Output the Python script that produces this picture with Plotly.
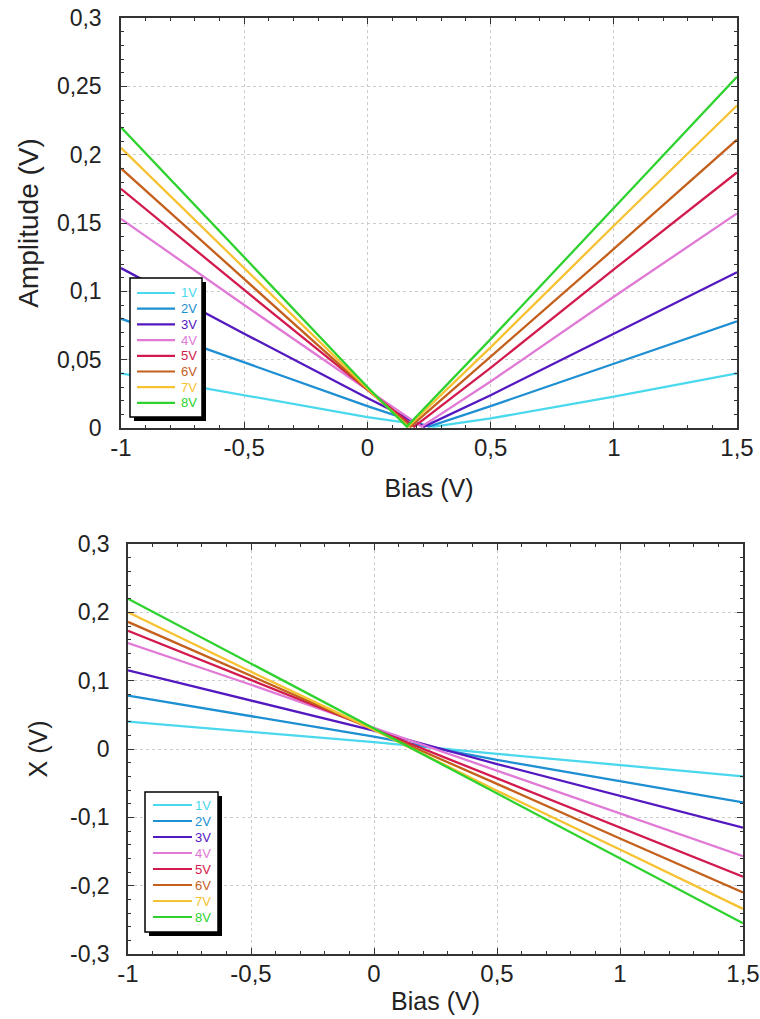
import plotly.graph_objects as go

labels = ["1V", "2V", "3V", "4V", "5V", "6V", "7V", "8V"]
colors = ["#4ad8ec", "#1e8fd2", "#5418c0", "#e07ad6", "#d21a4e", "#c4601c", "#f6c232", "#2ed22e"]

bias = [-1.0, -0.5, 0.0, 0.5, 1.0, 1.5]

# Amplitude (top) read at the bias points above
amp_1V = [0.040, 0.024, 0.008, 0.007, 0.023, 0.040]
amp_2V = [0.080, 0.048, 0.016, 0.016, 0.047, 0.078]
amp_3V = [0.117, 0.069, 0.022, 0.024, 0.069, 0.114]
amp_4V = [0.153, 0.090, 0.028, 0.034, 0.096, 0.157]
amp_5V = [0.175, 0.101, 0.028, 0.044, 0.116, 0.187]
amp_6V = [0.190, 0.109, 0.028, 0.052, 0.131, 0.211]
amp_7V = [0.205, 0.117, 0.029, 0.059, 0.148, 0.236]
amp_8V = [0.220, 0.125, 0.030, 0.065, 0.161, 0.257]
# minimum of each amplitude curve
vertex_bias = [0.27, 0.25, 0.23, 0.22, 0.19, 0.175, 0.165, 0.16]
vertex_amp = [0.001, 0.001, 0.001, 0.001, 0.001, 0.001, 0.001, 0.001]

# X (bottom) read at the bias points above
x_1V = [0.040, 0.025, 0.010, -0.007, -0.024, -0.040]
x_2V = [0.078, 0.048, 0.018, -0.016, -0.047, -0.078]
x_3V = [0.115, 0.071, 0.027, -0.022, -0.069, -0.115]
x_4V = [0.155, 0.094, 0.031, -0.032, -0.095, -0.157]
x_5V = [0.173, 0.101, 0.030, -0.043, -0.115, -0.187]
x_6V = [0.186, 0.107, 0.029, -0.051, -0.131, -0.210]
x_7V = [0.200, 0.113, 0.028, -0.061, -0.147, -0.234]
x_8V = [0.220, 0.125, 0.030, -0.065, -0.160, -0.255]

x_tickvals = [-1, -0.5, 0, 0.5, 1, 1.5]
x_ticktext = ["-1", "-0,5", "0", "0,5", "1", "1,5"]
amp_tickvals = [0, 0.05, 0.1, 0.15, 0.2, 0.25, 0.3]
amp_ticktext = ["0", "0,05", "0,1", "0,15", "0,2", "0,25", "0,3"]
xv_tickvals = [-0.3, -0.2, -0.1, 0, 0.1, 0.2, 0.3]
xv_ticktext = ["-0,3", "-0,2", "-0,1", "0", "0,1", "0,2", "0,3"]

amps = [amp_1V, amp_2V, amp_3V, amp_4V, amp_5V, amp_6V, amp_7V, amp_8V]
xs = [x_1V, x_2V, x_3V, x_4V, x_5V, x_6V, x_7V, x_8V]

FONT = "Liberation Sans, Arial, sans-serif"
W, H = 760, 1019
fig = go.Figure()

for i, lab in enumerate(labels):
    pts = sorted(list(zip(bias, amps[i])) + [(vertex_bias[i], vertex_amp[i])])
    fig.add_trace(go.Scatter(
        x=[p[0] for p in pts], y=[p[1] for p in pts], mode="lines",
        line=dict(color=colors[i], width=2.3), name=lab, showlegend=False,
        xaxis="x", yaxis="y"))

for i, lab in enumerate(labels):
    fig.add_trace(go.Scatter(
        x=bias, y=xs[i], mode="lines",
        line=dict(color=colors[i], width=2.3), name=lab, showlegend=False,
        xaxis="x2", yaxis="y2"))

# ---- legend boxes with drop shadow (pixel layout) ----
legend_boxes = [
    dict(left=130, top=278, right=202, bottom=417, row0=293, dy=15.7, lx0=137, lx1=175, tx=179, fs=13),
    dict(left=145, top=792, right=218, bottom=932, row0=805, dy=16.0, lx0=153, lx1=192, tx=193, fs=13),
]
shadow = 4
shapes, annotations = [], []
px = lambda v: v / W
py = lambda v: (H - v) / H
for lb in legend_boxes:
    shapes.append(dict(type="rect", xref="paper", yref="paper", layer="above",
                       x0=px(lb["left"] + shadow), x1=px(lb["right"] + shadow),
                       y0=py(lb["bottom"] + shadow), y1=py(lb["top"] + shadow),
                       fillcolor="black", line=dict(width=0)))
    shapes.append(dict(type="rect", xref="paper", yref="paper", layer="above",
                       x0=px(lb["left"]), x1=px(lb["right"]),
                       y0=py(lb["bottom"]), y1=py(lb["top"]),
                       fillcolor="white", line=dict(color="black", width=1.5)))
    for i, lab in enumerate(labels):
        yy = lb["row0"] + i * lb["dy"]
        shapes.append(dict(type="line", xref="paper", yref="paper", layer="above",
                           x0=px(lb["lx0"]), x1=px(lb["lx1"]), y0=py(yy), y1=py(yy),
                           line=dict(color=colors[i], width=2.2)))
        annotations.append(dict(xref="paper", yref="paper", x=px(lb["tx"]), y=py(yy),
                                xanchor="left", yanchor="middle", showarrow=False, text=lab,
                                font=dict(family=FONT, size=lb["fs"], color=colors[i])))

axcommon = dict(showline=True, linecolor="#333333", linewidth=1.5, mirror="allticks",
                ticks="inside", ticklen=6, tickcolor="#333333", tickwidth=1.2,
                showgrid=True, gridcolor="#cccccc", griddash="dot", gridwidth=1,
                zeroline=False, automargin=False)
xfont = dict(family=FONT, size=24, color="#222")
yfont = dict(family=FONT, size=23, color="#222")
tfont = dict(family=FONT, size=25, color="#222")

fig.update_layout(
    width=W, height=H, margin=dict(l=0, r=0, t=0, b=0),
    paper_bgcolor="white", plot_bgcolor="white",
    font=dict(family=FONT),
    shapes=shapes, annotations=annotations,
    xaxis=dict(**axcommon, domain=[px(121), px(737)], range=[-1, 1.5],
               tickvals=x_tickvals, ticktext=x_ticktext, tickfont=xfont,
               minor=dict(ticks="inside", ticklen=3, dtick=0.1, tick0=0, tickcolor="#333333", showgrid=False),
               title=dict(text="Bias (V)", standoff=20, font=tfont), anchor="y", ticklabelstandoff=-3),
    yaxis=dict(**axcommon, domain=[py(428), py(18)], range=[0, 0.3],
               tickvals=amp_tickvals, ticktext=amp_ticktext, tickfont=yfont,
               minor=dict(ticks="inside", ticklen=3, dtick=0.01, tick0=0, tickcolor="#333333", showgrid=False),
               title=dict(text="Amplitude (V)", standoff=10, font=dict(family=FONT, size=28, color="#222")),
               anchor="x", ticklabelstandoff=13),
    xaxis2=dict(**axcommon, domain=[px(128), px(743)], range=[-1, 1.5],
                tickvals=x_tickvals, ticktext=x_ticktext, tickfont=xfont,
                minor=dict(ticks="inside", ticklen=3, dtick=0.1, tick0=0, tickcolor="#333333", showgrid=False),
                title=dict(text="Bias (V)", standoff=7, font=tfont), anchor="y2", ticklabelstandoff=-3),
    yaxis2=dict(**axcommon, domain=[py(954), py(544)], range=[-0.3, 0.3],
                tickvals=xv_tickvals, ticktext=xv_ticktext, tickfont=yfont,
                minor=dict(ticks="inside", ticklen=3, dtick=0.02, tick0=0, tickcolor="#333333", showgrid=False),
                title=dict(text="X (V)", standoff=15, font=tfont), anchor="x2", ticklabelstandoff=12),
)

fig.write_html("out.html")
